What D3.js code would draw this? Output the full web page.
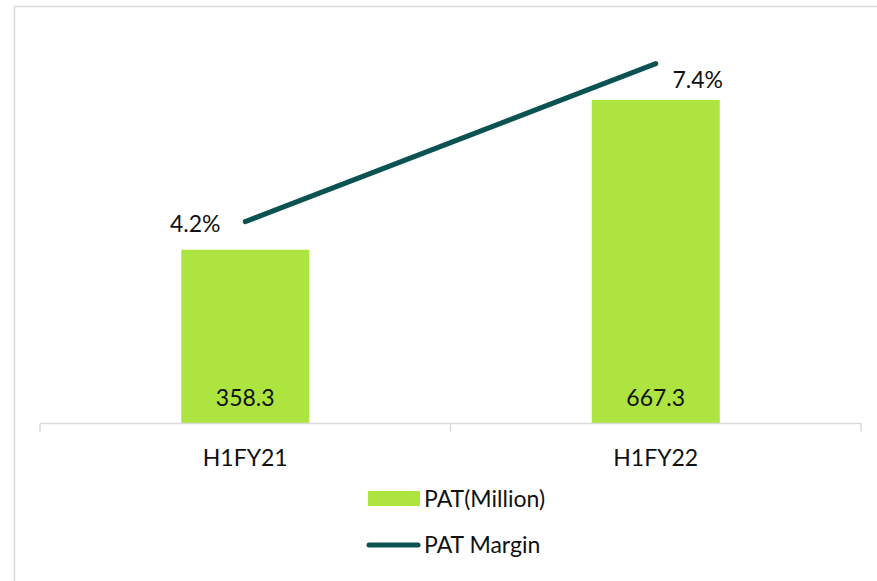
<!DOCTYPE html>
<html>
<head>
<meta charset="utf-8">
<script src="https://cdn.jsdelivr.net/npm/d3@7"></script>
<style>
  body { margin: 0; background: #fff; }
  text { font-family: Lato, "Open Sans", sans-serif; fill: #111; }
</style>
</head>
<body>
<div id="chart"></div>
<script>
var categories = ['H1FY21', 'H1FY22'];
var patMillion = [358.3, 667.3];
var patMargin = [4.2, 7.4];
var seriesNames = ['PAT(Million)', 'PAT Margin'];

var width = 877, height = 581;
var barColor = '#ade43f', lineColor = '#0b5352', gridColor = '#d9d9d9';
var fontSize = 23;

var svg = d3.select('#chart').append('svg')
    .attr('width', width)
    .attr('height', height);

// chart area border (only left and top edges show)
svg.append('path')
    .attr('d', 'M14.5,' + height + 'V6.5H' + width)
    .attr('fill', 'none')
    .attr('stroke', gridColor)
    .attr('stroke-width', 1.5);

var plot = { left: 40, right: 861, top: 35.5, bottom: 423.5 };

var x = d3.scaleBand().domain(categories).range([plot.left, plot.right]).paddingInner(0).paddingOuter(0);
var y = d3.scaleLinear().domain([0, 800]).range([plot.bottom, plot.top]);
var y2 = d3.scaleLinear().domain([0, 8]).range([429, 34]);

var barWidth = 128;

svg.selectAll('rect.bar')
    .data(patMillion)
    .enter().append('rect')
    .attr('class', 'bar')
    .attr('x', function(d, i) { return x(categories[i]) + x.bandwidth() / 2 - barWidth / 2; })
    .attr('y', function(d) { return y(d); })
    .attr('width', barWidth)
    .attr('height', function(d) { return y(0) - y(d); })
    .attr('fill', barColor);

// x axis line with ticks at category boundaries
var axis = svg.append('g');
axis.append('line')
    .attr('x1', plot.left).attr('x2', plot.right)
    .attr('y1', plot.bottom).attr('y2', plot.bottom)
    .attr('stroke', gridColor).attr('stroke-width', 1.5);
var tickXs = categories.map(function(c) { return x(c); }).concat([plot.right]);
axis.selectAll('line.tick')
    .data(tickXs)
    .enter().append('line')
    .attr('class', 'tick')
    .attr('x1', function(d) { return d; }).attr('x2', function(d) { return d; })
    .attr('y1', plot.bottom).attr('y2', plot.bottom + 8)
    .attr('stroke', gridColor).attr('stroke-width', 1.5);

axis.selectAll('text.cat')
    .data(categories)
    .enter().append('text')
    .attr('class', 'cat')
    .attr('x', function(d) { return x(d) + x.bandwidth() / 2; })
    .attr('y', 466)
    .attr('text-anchor', 'middle')
    .style('font-size', fontSize + 'px')
    .text(function(d) { return d; });

// bar value labels
svg.selectAll('text.val')
    .data(patMillion)
    .enter().append('text')
    .attr('class', 'val')
    .attr('x', function(d, i) { return x(categories[i]) + x.bandwidth() / 2; })
    .attr('y', plot.bottom - 18)
    .attr('text-anchor', 'middle')
    .style('font-size', fontSize + 'px')
    .text(function(d) { return d.toFixed(1); });

// margin line
var line = d3.line()
    .x(function(d, i) { return x(categories[i]) + x.bandwidth() / 2; })
    .y(function(d) { return y2(d); });

svg.append('path')
    .datum(patMargin)
    .attr('d', line)
    .attr('fill', 'none')
    .attr('stroke', lineColor)
    .attr('stroke-width', 5)
    .attr('stroke-linecap', 'round');

var marginLabelOffsets = [[-50, 10], [42, 24]];
svg.selectAll('text.pct')
    .data(patMargin)
    .enter().append('text')
    .attr('class', 'pct')
    .attr('x', function(d, i) { return x(categories[i]) + x.bandwidth() / 2 + marginLabelOffsets[i][0]; })
    .attr('y', function(d, i) { return y2(d) + marginLabelOffsets[i][1]; })
    .attr('text-anchor', 'middle')
    .style('font-size', fontSize + 'px')
    .text(function(d) { return d.toFixed(1) + '%'; });

// legend
var legend = svg.append('g');
legend.append('rect')
    .attr('x', 368).attr('y', 491)
    .attr('width', 52).attr('height', 15)
    .attr('fill', barColor);
legend.append('text')
    .attr('x', 424).attr('y', 507)
    .style('font-size', fontSize + 'px')
    .text(seriesNames[0]);
legend.append('line')
    .attr('x1', 369).attr('x2', 418)
    .attr('y1', 545).attr('y2', 545)
    .attr('stroke', lineColor).attr('stroke-width', 5)
    .attr('stroke-linecap', 'round');
legend.append('text')
    .attr('x', 424).attr('y', 553)
    .style('font-size', fontSize + 'px')
    .text(seriesNames[1]);
</script>
</body>
</html>
